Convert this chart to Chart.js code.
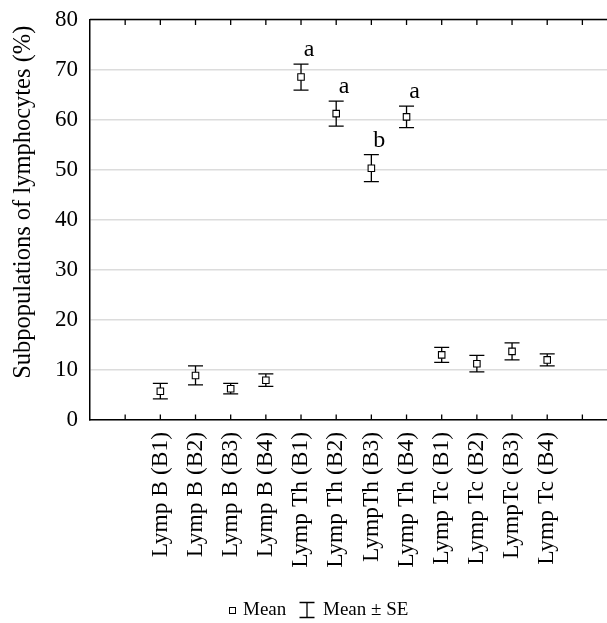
<!DOCTYPE html>
<html>
<head>
<meta charset="utf-8">
<script src="https://cdn.jsdelivr.net/npm/chart.js@4.4.0/dist/chart.umd.min.js"></script>
<style>
html, body { margin: 0; padding: 0; background: #fff; }
#wrap { width: 607px; height: 623px; }
</style>
</head>
<body>
<div id="wrap"><canvas id="lympChart"></canvas></div>
<script>
const categories = ['Lymp B (B1)', 'Lymp B (B2)', 'Lymp B (B3)', 'Lymp B (B4)',
  'Lymp Th (B1)', 'Lymp Th (B2)', 'LympTh (B3)', 'Lymp Th (B4)',
  'Lymp Tc (B1)', 'Lymp Tc (B2)', 'LympTc (B3)', 'Lymp Tc (B4)'];
const means = [5.75, 8.9, 6.25, 7.95, 68.5, 61.2, 50.3, 60.55, 13.0, 11.25, 13.7, 12.0];
const se = [1.55, 1.9, 1.05, 1.25, 2.6, 2.5, 2.7, 2.15, 1.5, 1.65, 1.7, 1.2];
const groupLetters = ['', '', '', '', 'a', 'a', 'b', 'a', '', '', '', ''];
const yTicks = [0, 10, 20, 30, 40, 50, 60, 70, 80];

const serif = "'Liberation Serif', 'Times New Roman', serif";
Chart.defaults.font.family = serif;
Chart.defaults.color = '#000';

// slot of each category on the x axis (first slot left empty like the original)
const slot = i => i + 2;

const errorBars = {
  id: 'errorBars',
  beforeDatasetsDraw(chart) {
    const {ctx, scales: {x, y}} = chart;
    ctx.save();
    ctx.strokeStyle = '#000';
    ctx.lineWidth = 1.3;
    means.forEach((m, i) => {
      const px = x.getPixelForValue(slot(i));
      const top = y.getPixelForValue(m + se[i]);
      const bot = y.getPixelForValue(m - se[i]);
      ctx.beginPath();
      ctx.moveTo(px, top); ctx.lineTo(px, bot);
      ctx.moveTo(px - 7.5, top); ctx.lineTo(px + 7.5, top);
      ctx.moveTo(px - 7.5, bot); ctx.lineTo(px + 7.5, bot);
      ctx.stroke();
    });
    ctx.restore();
  },
  afterDatasetsDraw(chart) {
    const {ctx, scales: {x, y}} = chart;
    ctx.save();
    ctx.fillStyle = '#000';
    ctx.font = '24px ' + serif;
    ctx.textAlign = 'center';
    ctx.textBaseline = 'alphabetic';
    groupLetters.forEach((l, i) => {
      if (!l) return;
      const px = x.getPixelForValue(slot(i));
      const top = y.getPixelForValue(means[i] + se[i]);
      ctx.fillText(l, px + 8, top - 8);
    });
    ctx.restore();
  }
};

const frame = {
  id: 'frame',
  afterDraw(chart) {
    const {ctx, chartArea: a, scales: {x}} = chart;
    ctx.save();
    ctx.strokeStyle = '#000';
    ctx.lineWidth = 1.5;
    ctx.beginPath();
    ctx.moveTo(a.left, a.top);
    ctx.lineTo(a.right, a.top);
    ctx.stroke();
    ctx.lineWidth = 1.3;
    ctx.beginPath();
    for (let v = 1; v <= Math.floor(x.max); v++) {
      const px = x.getPixelForValue(v);
      ctx.moveTo(px, a.top); ctx.lineTo(px, a.top + 5.5);
      ctx.moveTo(px, a.bottom); ctx.lineTo(px, a.bottom - 5.5);
    }
    ctx.stroke();

    // legend
    const ly = 610;
    ctx.lineWidth = 1;
    ctx.fillStyle = '#fff';
    ctx.fillRect(229, ly - 3, 6, 6);
    ctx.strokeRect(229.5, ly - 2.5, 6, 6);
    ctx.lineWidth = 1.3;
    ctx.beginPath();
    ctx.moveTo(307, ly - 7.5); ctx.lineTo(307, ly + 7.5);
    ctx.moveTo(299.5, ly - 7.5); ctx.lineTo(314.5, ly - 7.5);
    ctx.moveTo(299.5, ly + 7.5); ctx.lineTo(314.5, ly + 7.5);
    ctx.stroke();
    ctx.fillStyle = '#000';
    ctx.font = '19px ' + serif;
    ctx.textBaseline = 'middle';
    ctx.textAlign = 'left';
    ctx.fillText('Mean', 243, ly);
    ctx.fillText('Mean \u00b1 SE', 323, ly);
    ctx.restore();
  }
};

new Chart(document.getElementById('lympChart'), {
  type: 'scatter',
  data: {
    datasets: [{
      label: 'Mean',
      data: means.map((m, i) => ({x: slot(i), y: m})),
      pointStyle: 'rect',
      pointRadius: 4.6,
      pointHoverRadius: 4.6,
      pointBackgroundColor: '#fff',
      pointBorderColor: '#000',
      pointBorderWidth: 1.1,
    }]
  },
  options: {
    responsive: true,
    maintainAspectRatio: false,
    animation: false,
    layout: { autoPadding: false, padding: { top: 19.5, right: 0, bottom: 0, left: 0 } },
    plugins: {
      legend: { display: false },
      tooltip: { enabled: false },
    },
    scales: {
      x: {
        type: 'linear',
        min: 0,
        max: 14.7,
        afterBuildTicks: s => { s.ticks = categories.map((c, i) => ({value: slot(i)})); },
        afterFit: s => { s.height = 203; s.paddingLeft = 0; s.paddingRight = 0; },
        ticks: {
          autoSkip: false,
          minRotation: 90,
          maxRotation: 90,
          padding: 12,
          font: { size: 23.5 },
          callback: v => categories[v - 2],
        },
        grid: { display: false, drawTicks: false },
        border: { color: '#000', width: 1.5 },
      },
      y: {
        min: 0,
        max: 80,
        afterBuildTicks: s => { s.ticks = yTicks.map(v => ({value: v})); },
        afterFit: s => { s.width = 90; s.paddingTop = 0; s.paddingBottom = 0; },
        ticks: {
          padding: 12,
          font: { size: 23 },
        },
        grid: { color: '#dcdcdc', lineWidth: 1.5, drawTicks: false },
        border: { color: '#000', width: 1.5 },
        title: {
          display: true,
          text: 'Subpopulations of lymphocytes (%) ',
          align: 'end',
          font: { size: 24.5 },
          padding: { top: 9, bottom: 0 },
        },
      },
    },
  },
  plugins: [errorBars, frame],
});
</script>
</body>
</html>
